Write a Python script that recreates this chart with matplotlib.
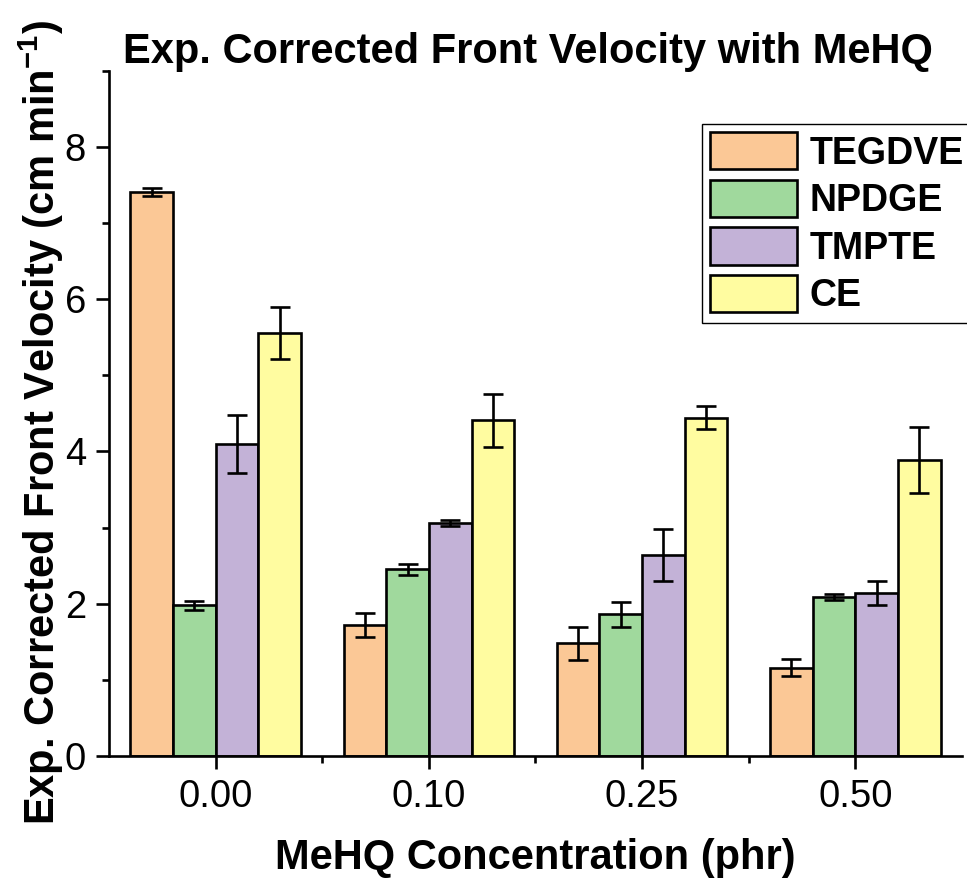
import numpy as np
import matplotlib
matplotlib.use("Agg")
import matplotlib.pyplot as plt
from matplotlib.ticker import MultipleLocator, FixedLocator

plt.rcParams['font.family'] = ['Liberation Sans', 'DejaVu Sans']
plt.rcParams['mathtext.fontset'] = 'custom'
plt.rcParams['mathtext.rm'] = 'Liberation Sans'
plt.rcParams['mathtext.bf'] = 'Liberation Sans:bold'

# MeHQ concentration groups and monomer series
concentrations = ["0.00", "0.10", "0.25", "0.50"]
series = ["TEGDVE", "NPDGE", "TMPTE", "CE"]

tegdve = [7.41, 1.72, 1.48, 1.16]
tegdve_err = [0.05, 0.16, 0.22, 0.11]
npdge = [1.98, 2.45, 1.86, 2.09]
npdge_err = [0.06, 0.07, 0.16, 0.04]
tmpte = [4.10, 3.06, 2.64, 2.14]
tmpte_err = [0.38, 0.04, 0.34, 0.16]
ce = [5.56, 4.41, 4.44, 3.89]
ce_err = [0.34, 0.35, 0.15, 0.43]

colors = ["#FBC896", "#A0D99D", "#C3B2D7", "#FFFCA0"]

values = [tegdve, npdge, tmpte, ce]
errors = [tegdve_err, npdge_err, tmpte_err, ce_err]

fig = plt.figure(figsize=(9.67, 8.83), dpi=100)
ax = fig.add_axes([0.1127, 0.1438, 0.8821, 0.7762])

x = np.arange(len(concentrations))
width = 0.2
offsets = [-1.5, -0.5, 0.5, 1.5]
lw = 1.9

handles = []
for vals, errs, col, off, name in zip(values, errors, colors, offsets, series):
    b = ax.bar(x + off * width, vals, width=width, color=col, edgecolor="black",
               linewidth=lw, label=name, zorder=2)
    ax.errorbar(x + off * width, vals, yerr=errs, fmt="none", ecolor="black",
                elinewidth=lw, capsize=7.5, capthick=lw, zorder=3)
    handles.append(b)

ax.set_xlim(-0.5, 3.5)
ax.set_ylim(0, 9)

ax.spines['top'].set_visible(False)
ax.spines['right'].set_visible(False)
for s in ('left', 'bottom'):
    ax.spines[s].set_linewidth(lw)

ax.set_xticks(x)
ax.set_xticklabels(concentrations)
ax.xaxis.set_minor_locator(FixedLocator([0.5, 1.5, 2.5]))
ax.yaxis.set_major_locator(MultipleLocator(2))
ax.yaxis.set_minor_locator(MultipleLocator(1))

ax.tick_params(axis='both', which='major', direction='out', length=9.5, width=lw,
               labelsize=27.5, pad=7)
ax.tick_params(axis='both', which='minor', direction='out', length=5, width=lw)

fig.text(528 / 967, 1 - 52 / 883, "Exp. Corrected Front Velocity with MeHQ",
         ha='center', va='center', fontsize=30, fontweight='bold')
fig.text(535 / 967, 1 - 858 / 883, "MeHQ Concentration (phr)",
         ha='center', va='center', fontsize=30, fontweight='bold')
fig.text(41 / 967, 1 - 423 / 883,
         r"Exp. Corrected Front Velocity (cm min$^{\mathbf{-1}}$)",
         ha='center', va='center', rotation=90, fontsize=30, fontweight='bold')

leg = ax.legend(handles=handles, labels=series, loc='upper left',
                bbox_to_anchor=(702 / 967, 1 - 124 / 883),
                bbox_transform=fig.transFigure, borderaxespad=0,
                fancybox=False, framealpha=1, edgecolor='black',
                prop={'weight': 'bold', 'size': 27},
                handlelength=2.3, handleheight=1.15, handletextpad=0.35,
                labelspacing=0.22, borderpad=0.22)
leg.get_frame().set_linewidth(1.0)

fig.savefig("out.png", dpi=100)
